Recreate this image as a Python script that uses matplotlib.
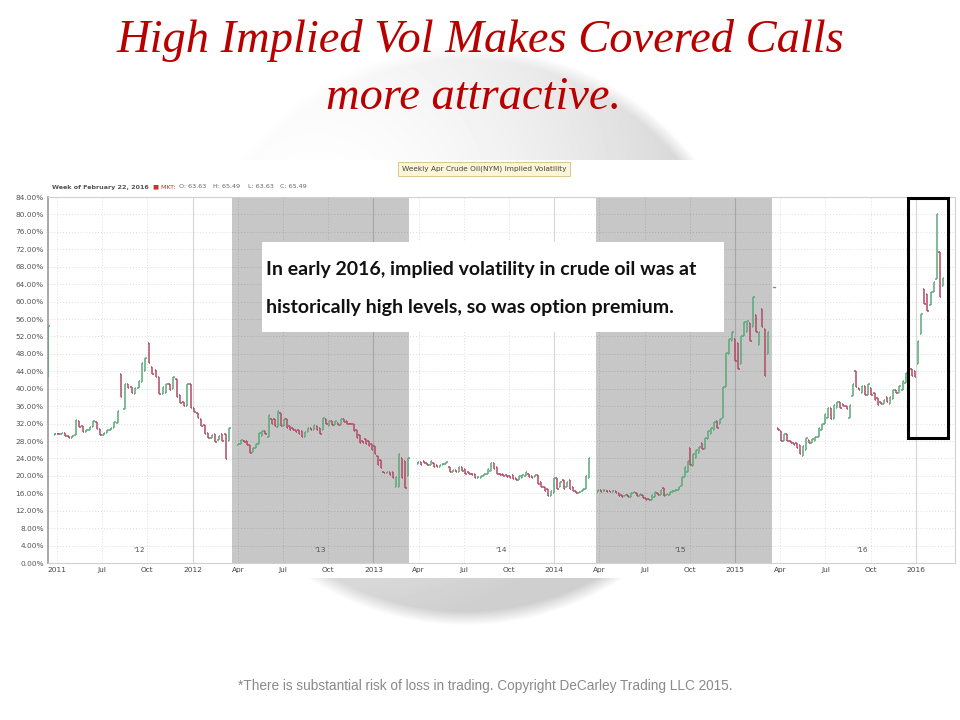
import numpy as np
import matplotlib.pyplot as plt
from matplotlib.patches import Rectangle
from matplotlib.collections import LineCollection

# Data (x in weeks from the "2011" tick, y in % implied vol)
#---------------------------------
x_tick_labels = ['2011', 'Jul', 'Oct', '2012', 'Apr', 'Jul', 'Oct', '2013', 'Apr', 'Jul',
                 'Oct', '2014', 'Apr', 'Jul', 'Oct', '2015', 'Apr', 'Jul', 'Oct', '2016']
year_marks = ["'12", "'13", "'14", "'15", "'16"]
year_mark_x = [23.6, 75.6, 127.7, 179.2, 231.5]
shade_spans = [(50.3, 101.2), (155.0, 205.6)]

# one list of weekly open / close per contract, with its first and last week
seg_weeks = [(-2.45, -2.45), (-0.6, 49.5), (52.1, 101.0), (103.8, 153.0),
             (155.6, 204.5), (207.4, 254.8)]
seg_open = [
    [42.6],
    [29.4, 29.6, 29.5, 29.8, 29.2, 28.8, 29.3, 32.6, 31.4, 30.0, 30.6, 31.2, 32.4, 30.8,
     29.3, 29.8, 30.5, 31.0, 32.2, 43.4, 35.4, 41.0, 40.4, 38.8, 40.2, 41.5, 44.0, 50.4,
     45.0, 44.2, 42.6, 38.8, 39.0, 41.0, 40.0, 42.2, 38.6, 37.0, 36.1, 41.0, 35.6, 34.4,
     33.0, 31.6, 29.8, 28.6, 29.5, 28.2, 29.6, 29.7, 28.0],
    [27.0, 27.4, 28.0, 28.0, 27.0, 25.4, 26.4, 27.4, 29.2, 30.2, 29.0, 33.0, 33.0, 31.2,
     34.5, 31.5, 33.0, 31.5, 31.0, 30.6, 30.5, 30.2, 29.0, 30.0, 31.0, 30.5, 31.5, 31.0,
     30.5, 33.0, 31.5, 32.5, 31.6, 32.2, 31.6, 33.0, 32.6, 32.0, 31.8, 30.5, 29.4, 28.0,
     28.4, 28.0, 27.4, 26.8, 24.6, 23.6, 21.0, 20.6, 20.8, 21.0, 17.4, 17.4, 24.0, 23.4,
     20.0],
    [22.8, 23.2, 23.5, 23.0, 22.5, 23.0, 22.5, 22.0, 22.5, 22.8, 22.0, 21.0, 21.3, 21.0,
     22.0, 21.5, 21.0, 20.5, 20.5, 19.5, 19.5, 20.0, 20.5, 21.2, 23.0, 22.0, 20.5, 20.5,
     20.2, 20.0, 20.2, 19.5, 19.0, 19.5, 20.0, 20.5, 20.0, 19.8, 20.2, 18.5, 17.5, 17.0,
     15.3, 16.0, 19.5, 17.5, 19.0, 17.5, 19.0, 17.5, 16.5, 16.0, 16.5, 17.0, 19.6],
    [16.2, 16.8, 16.5, 16.6, 16.5, 16.3, 16.5, 16.0, 15.5, 15.3, 15.5, 15.2, 16.0, 16.0,
     15.3, 15.7, 15.0, 14.8, 14.5, 15.2, 16.0, 15.5, 17.2, 15.5, 15.5, 16.3, 16.5, 16.8,
     17.6, 19.8, 21.0, 26.5, 22.2, 24.2, 25.2, 27.6, 26.2, 28.4, 29.6, 30.6, 32.6, 31.8,
     33.2, 40.4, 48.0, 51.0, 51.4, 50.6, 45.7, 52.1, 53.0, 55.0, 54.1, 57.0, 50.0, 58.3,
     53.7, 48.0],
    [30.9, 30.4, 28.0, 29.6, 28.0, 27.6, 27.5, 27.0, 24.5, 26.0, 28.2, 27.5, 28.0, 29.0,
     30.5, 31.9, 33.2, 35.6, 33.0, 35.6, 37.0, 36.6, 36.0, 33.2, 38.4, 44.1, 40.2, 39.0,
     40.6, 38.6, 40.2, 39.0, 37.8, 37.0, 36.5, 38.0, 36.5, 37.6, 39.6, 39.0, 39.6, 41.4,
     43.7, 44.5, 44.0, 45.6, 52.5, 62.9, 61.8, 59.2, 62.1, 65.2, 71.3, 63.63],
]
seg_close = [
    [54.5],
    [29.6, 29.5, 29.8, 29.2, 28.8, 29.2, 32.8, 31.2, 30.0, 30.6, 31.2, 32.5, 30.8, 29.3,
     29.8, 30.5, 31.0, 32.4, 34.8, 38.0, 41.0, 40.2, 39.0, 40.2, 41.8, 45.8, 47.0, 46.0,
     43.4, 42.8, 38.8, 40.4, 41.0, 39.6, 42.8, 38.2, 36.8, 36.0, 41.1, 35.6, 34.6, 33.2,
     31.4, 29.6, 28.6, 29.4, 27.8, 29.2, 28.0, 23.8, 31.0],
    [27.4, 28.2, 27.8, 27.0, 25.2, 26.4, 27.4, 29.8, 30.4, 29.6, 34.0, 32.0, 31.5, 34.9,
     31.5, 33.0, 31.0, 30.5, 30.6, 30.0, 29.5, 29.0, 30.0, 31.0, 30.5, 31.6, 30.5, 29.5,
     33.2, 32.0, 32.5, 31.6, 32.6, 31.6, 33.0, 32.4, 32.0, 31.8, 30.4, 28.6, 27.6, 27.6,
     27.4, 26.8, 26.0, 25.0, 22.4, 21.8, 20.6, 21.0, 20.2, 19.6, 19.8, 25.0, 19.6, 17.2,
     24.0],
    [23.2, 22.6, 23.0, 22.5, 23.3, 22.0, 22.0, 22.5, 22.8, 23.1, 21.0, 21.3, 21.0, 22.0,
     21.2, 20.5, 20.5, 20.2, 19.5, 19.8, 20.0, 20.5, 21.5, 23.0, 21.5, 20.5, 20.2, 20.0,
     19.8, 19.5, 19.2, 19.0, 20.0, 20.3, 20.8, 19.8, 19.5, 20.3, 18.2, 17.5, 16.5, 15.4,
     16.5, 19.5, 17.0, 18.5, 17.0, 18.5, 17.0, 16.5, 16.0, 16.3, 17.0, 20.0, 24.2],
    [16.8, 16.4, 16.6, 16.3, 16.2, 16.5, 16.0, 15.4, 15.2, 15.6, 15.2, 16.0, 16.3, 15.3,
     15.8, 15.0, 14.5, 14.4, 15.5, 16.3, 15.7, 16.8, 15.4, 15.8, 16.3, 16.5, 16.8, 17.5,
     19.8, 22.0, 23.5, 22.6, 25.0, 26.0, 26.6, 26.2, 28.6, 30.2, 31.0, 32.4, 31.0, 33.0,
     40.4, 48.2, 51.4, 53.0, 46.4, 44.5, 52.1, 55.2, 55.5, 51.0, 61.0, 53.0, 53.0, 54.1,
     43.0, 53.0],
    [30.6, 28.0, 29.6, 28.0, 27.5, 27.1, 26.4, 25.0, 26.8, 28.6, 27.5, 28.5, 29.0, 31.0,
     32.0, 34.1, 35.6, 33.0, 36.2, 37.0, 35.6, 36.0, 35.4, 36.3, 41.1, 40.3, 39.6, 40.6,
     38.6, 41.0, 38.6, 37.5, 36.3, 36.5, 37.5, 37.0, 38.0, 39.6, 39.0, 40.6, 41.8, 43.7,
     46.4, 43.0, 42.6, 51.0, 57.1, 59.5, 57.9, 62.2, 64.4, 80.2, 61.1, 65.49],
]
stray_tick = (205.9, 63.3)
box_weeks = (244.7, 256.3); box_pct = (28.7, 83.8)
header_parts = ['Week of February 22, 2016', '\u25a0 MKT:', 'O: 63.63', 'H: 65.49',
                'L: 63.63', 'C: 65.49']
#---------------------------------

#Figure settings
W_PX, H_PX = 960, 720
def fx(px): return px / W_PX
def fy(py): return 1 - py / H_PX

green = '#5aa878'; red = '#b24a64'
size_ticks = 5.3

fig = plt.figure(figsize=(9.6, 7.2), dpi=100)

#Background globe of the slide, lit from the upper left
bg = fig.add_axes([0, 0, 1, 1], zorder=-2)
yy, xx = np.mgrid[0:H_PX, 0:W_PX]
cx, cy, R = 465, 335, 290
d = np.hypot(xx - cx, yy - cy) / R
hl = np.hypot(xx - (cx - 150), yy - (cy - 120)) / (1.45 * R)
shade = 0.19 * np.clip(hl, 0, 1) ** 1.7
edge = np.clip((1 - d) / 0.05, 0, 1)
bg.imshow(1 - shade * edge, cmap='gray', vmin=0, vmax=1, aspect='auto')
bg.axis('off')

#White chart panel
fig.patches.append(Rectangle((fx(12), fy(578)), fx(958) - fx(12), fy(160) - fy(578),
                             transform=fig.transFigure, facecolor='white',
                             edgecolor='none', zorder=-1))

#Title
title_kw = dict(ha='center', va='center', color='#b80000', fontsize=33.5,
                family='Liberation Serif', style='italic')
fig.text(fx(480), fy(40), 'High Implied Vol Makes Covered Calls', **title_kw)
fig.text(fx(474), fy(98), 'more attractive.', **title_kw)

#Main axes
ax = fig.add_axes([fx(48), fy(563), fx(955) - fx(48), fy(197) - fy(563)], zorder=1)
ax.set_xlim((48 - 57) / 3.477, (955 - 57) / 3.477)
ax.set_ylim(0, 84)

x_ticks = [13 * i for i in range(len(x_tick_labels))]
for xt, lab in zip(x_ticks, x_tick_labels):
    if lab.isdigit() and lab != '2011':
        ax.axvline(xt, color='#d6d6d6', lw=0.8, zorder=0)
    else:
        ax.axvline(xt, color='#dedede', lw=0.7, ls=(0, (1, 2)), zorder=0)
for yt in range(4, 84, 4):
    ax.axhline(yt, color='#dcdcdc', lw=0.7, ls=(0, (1, 2)), zorder=0)

for x0, x1 in shade_spans:
    ax.axvspan(x0, x1, color='black', alpha=0.22, lw=0, zorder=1)

#Weekly bars
segs, cols = [], []
for (w0, w1), opens, closes in zip(seg_weeks, seg_open, seg_close):
    weeks = np.linspace(w0, w1, len(opens))
    for w, o, c in zip(weeks, opens, closes):
        lo, hi = min(o, c), max(o, c)
        if hi - lo < 0.4:
            hi = lo + 0.4
        col = green if c >= o else red
        segs += [[(w, lo), (w, hi)], [(w - 0.4, o), (w, o)], [(w, c), (w + 0.4, c)]]
        cols += [col] * 3
ax.add_collection(LineCollection(segs, colors=cols, linewidths=1.1, zorder=3))
ax.plot([stray_tick[0], stray_tick[0] + 0.5], [stray_tick[1], stray_tick[1]],
        color='#888888', lw=1, zorder=3)

#Highlight box
ax.add_patch(Rectangle((box_weeks[0], box_pct[0]), box_weeks[1] - box_weeks[0],
                       box_pct[1] - box_pct[0], fill=False, edgecolor='black',
                       lw=2.2, zorder=4, clip_on=False))

#Year marks
for xm, lab in zip(year_mark_x, year_marks):
    ax.text(xm, 3.0, lab, ha='center', va='center', fontsize=size_ticks, color='#555555')

#Ticks
ax.set_xticks(x_ticks)
ax.set_xticklabels(x_tick_labels, fontsize=size_ticks, color='#444444')
y_ticks = list(range(0, 85, 4))
ax.set_yticks(y_ticks)
ax.set_yticklabels([f'{v:.2f}%' for v in y_ticks], fontsize=size_ticks, color='#555555')
ax.tick_params(length=0, pad=3)
for side in ['top', 'right', 'bottom']:
    ax.spines[side].set_color('#d0d0d0')
    ax.spines[side].set_linewidth(0.8)
ax.spines['left'].set_color('#9a9a9a')
ax.spines['left'].set_linewidth(1.2)

#Chart header
fig.text(fx(484), fy(169), 'Weekly Apr Crude Oil(NYM) Implied Volatility', ha='center',
         va='center', fontsize=5.3, color='#444444',
         bbox=dict(boxstyle='square,pad=0.5', facecolor='#fdf5d5', edgecolor='#d8c88e', lw=0.7))
#header parts placed one after another, measured with the renderer
renderer = fig.canvas.get_renderer()
x_px = 52
for i, part in enumerate(header_parts):
    col = '#555555' if i == 0 else ('#c0392b' if i == 1 else '#666666')
    t = fig.text(fx(x_px), fy(187), part, ha='left', va='center', fontsize=4.6,
                 color=col, weight='bold' if i == 0 else 'normal')
    x_px = t.get_window_extent(renderer).x1 + (4 if i < 2 else 7)

#Annotation
fig.patches.append(Rectangle((fx(262), fy(332)), fx(724) - fx(262), fy(242) - fy(332),
                             transform=fig.transFigure, facecolor='white',
                             edgecolor='none', zorder=5))
ann_kw = dict(ha='left', va='center', fontsize=14, family='Lato', weight='bold',
              color='#111111', zorder=6)
fig.text(fx(266), fy(270), 'In early 2016, implied volatility in crude oil was at', **ann_kw)
fig.text(fx(266), fy(308), 'historically high levels, so was option premium.', **ann_kw)

#Footer
fig.text(fx(485), fy(686), '*There is substantial risk of loss in trading. Copyright DeCarley Trading LLC 2015.',
         ha='center', va='center', fontsize=9.8, color='#8a8a8a', family='Liberation Sans')

plt.savefig('out.png', dpi=100)
